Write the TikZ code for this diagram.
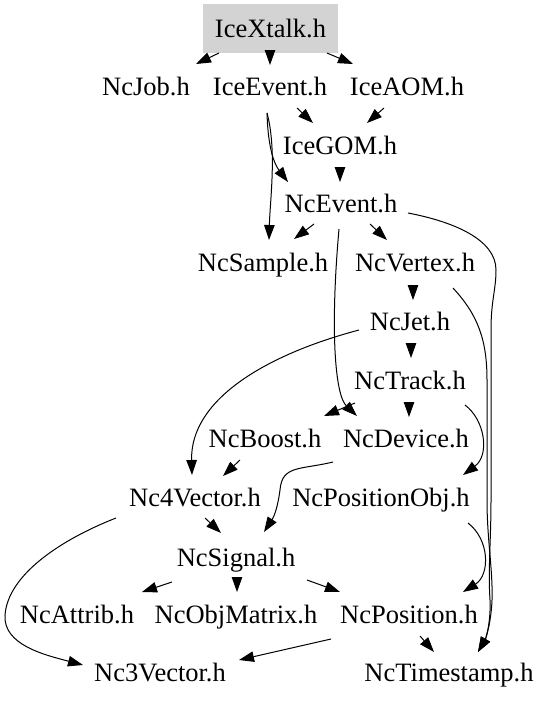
\documentclass[tikz,border=0pt]{standalone}
\usepackage{fontspec}
\setmainfont{Liberation Serif}
\usetikzlibrary{arrows.meta}
\begin{document}
\begin{tikzpicture}[x=1pt,y=-1pt,
  lbl/.style={inner sep=0pt,text height=17.6pt,text depth=0pt,font=\fontsize{26.5}{30}\selectfont},
  edge/.style={line width=1pt,-{Triangle[length=15pt,width=10.5pt]}}]
\useasboundingbox (0,0) rectangle (551,704);
\node[lbl,fill={rgb,255:red,211;green,211;blue,211},minimum width=135pt,minimum height=49pt] (IceXtalk) at (270.5,28.5) {IceXtalk.h};
\node[lbl] (NcJob) at (146,87) {NcJob.h};
\node[lbl] (IceEvent) at (270,87) {IceEvent.h};
\node[lbl] (IceAOM) at (407,87) {IceAOM.h};
\node[lbl] (IceGOM) at (340,146) {IceGOM.h};
\node[lbl] (NcEvent) at (341,204) {NcEvent.h};
\node[lbl] (NcSample) at (263,263) {NcSample.h};
\node[lbl] (NcVertex) at (415,263) {NcVertex.h};
\node[lbl] (NcJet) at (410,322) {NcJet.h};
\node[lbl] (NcTrack) at (410,381) {NcTrack.h};
\node[lbl] (NcBoost) at (265,439) {NcBoost.h};
\node[lbl] (NcDevice) at (406,439) {NcDevice.h};
\node[lbl] (NcFourVec) at (195,498) {Nc4Vector.h};
\node[lbl] (NcPosObj) at (381,498) {NcPositionObj.h};
\node[lbl] (NcSignal) at (236,558) {NcSignal.h};
\node[lbl] (NcAttrib) at (77,615) {NcAttrib.h};
\node[lbl] (NcObjMatrix) at (236,615) {NcObjMatrix.h};
\node[lbl] (NcPosition) at (409,615) {NcPosition.h};
\node[lbl] (NcThreeVec) at (160,673) {Nc3Vector.h};
\node[lbl] (NcTimestamp) at (449,673) {NcTimestamp.h};
% edges
\draw[edge] ([shift={(-51.5,24.5)}]IceXtalk.center) -- ([shift={(50,-23)}]NcJob.center);
\draw[edge] ([shift={(-0.5,21.5)}]IceXtalk.center) -- ([shift={(0,-22)}]IceEvent.center);
\draw[edge] ([shift={(56.5,24.5)}]IceXtalk.center) -- ([shift={(-54,-23)}]IceAOM.center);
\draw[edge] ([shift={(27,21)}]IceEvent.center) -- ([shift={(-27,-23)}]IceGOM.center);
\draw[edge] ([shift={(-23,21)}]IceAOM.center) -- ([shift={(27,-23)}]IceGOM.center);
\draw[edge] ([shift={(-3,26)}]IceEvent.center) .. controls (268,150) and (275,165) .. ([shift={(-53,-22)}]NcEvent.center);
\draw[edge] ([shift={(-3,26)}]IceEvent.center) .. controls (277,150) and (270,200) .. ([shift={(6,-23)}]NcSample.center);
\draw[edge] ([shift={(0,21)}]IceGOM.center) -- ([shift={(-1,-22)}]NcEvent.center);
\draw[edge] ([shift={(-27,20)}]NcEvent.center) -- ([shift={(31,-24)}]NcSample.center);
\draw[edge] ([shift={(-2,25)}]NcEvent.center) .. controls (330,330) and (335,395) .. ([shift={(-49,-23)}]NcDevice.center);
\draw[edge] ([shift={(29,20)}]NcEvent.center) -- ([shift={(-28,-23)}]NcVertex.center);
\draw[edge] ([shift={(67,9)}]NcEvent.center) .. controls (455,222) and (496,240) .. (496,270)
  .. controls (496,290) and (491,300) .. (491,330) -- (491,500)
  .. controls (491,540) and (488,570) .. (490,600) .. controls (491,625) and (485,640) .. ([shift={(29,-21)}]NcTimestamp.center);
\draw[edge] ([shift={(38,25)}]NcVertex.center) .. controls (478,315) and (487,340) .. (487,380) -- (487,500)
  .. controls (487,540) and (493,570) .. (492,600) .. controls (491,625) and (485,640) .. ([shift={(29,-21)}]NcTimestamp.center);
\draw[edge] ([shift={(-2,23)}]NcVertex.center) -- ([shift={(3,-22)}]NcJet.center);
\draw[edge] ([shift={(1,22)}]NcJet.center) -- ([shift={(1,-23)}]NcTrack.center);
\draw[edge] ([shift={(-1,21)}]NcTrack.center) -- ([shift={(3,-22)}]NcDevice.center);
\draw[edge] ([shift={(-55,22)}]NcTrack.center) -- ([shift={(59,-23)}]NcBoost.center);
\draw[edge] ([shift={(-51,8)}]NcJet.center) .. controls (265,355) and (190,400) .. ([shift={(-3,-23)}]NcFourVec.center);
\draw[edge] ([shift={(-25,21)}]NcBoost.center) -- ([shift={(28,-22)}]NcFourVec.center);
\draw[edge] ([shift={(-73,23)}]NcDevice.center) .. controls (300,470) and (282,465) .. (280,490)
  .. controls (278,505) and (275,515) .. ([shift={(28,-26)}]NcSignal.center);
\draw[edge] ([shift={(10,20)}]NcFourVec.center) -- ([shift={(-15,-25)}]NcSignal.center);
\draw[edge] ([shift={(-79,20)}]NcFourVec.center) .. controls (60,540) and (8,575) .. (5,615)
  .. controls (3,645) and (45,655) .. ([shift={(-77,-8)}]NcThreeVec.center);
\draw[edge] ([shift={(-64,24)}]NcSignal.center) -- ([shift={(65,-23)}]NcAttrib.center);
\draw[edge] ([shift={(1,20)}]NcSignal.center) -- ([shift={(1,-23)}]NcObjMatrix.center);
\draw[edge] ([shift={(71,22)}]NcSignal.center) -- ([shift={(-69,-23)}]NcPosition.center);
\draw[edge] ([shift={(-78,24)}]NcPosition.center) -- ([shift={(79,-13)}]NcThreeVec.center);
\draw[edge] ([shift={(11,21)}]NcPosition.center) -- ([shift={(-15,-21)}]NcTimestamp.center);
\draw[edge] ([shift={(55,24)}]NcTrack.center) .. controls (485,420) and (490,455) .. ([shift={(82,-23)}]NcPosObj.center);
\draw[edge] ([shift={(87,25)}]NcPosObj.center) .. controls (490,540) and (490,575) .. ([shift={(54,-23)}]NcPosition.center);
\end{tikzpicture}
\end{document}
